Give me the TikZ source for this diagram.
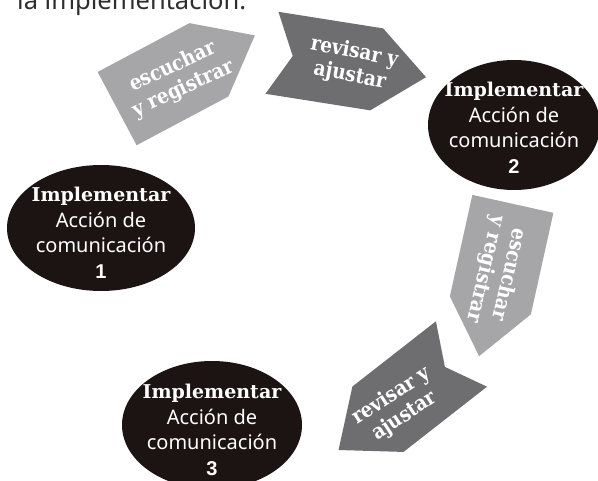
\documentclass[tikz,border=0pt]{standalone}
\usepackage{fontspec}
\setmainfont{Noto Sans}
\newfontfamily\slabfont{DejaVu Serif}
\newfontfamily\narrowslab{DejaVu Serif}[FakeStretch=0.88]
\newfontfamily\digitfont{Liberation Sans}
\usepackage{xcolor}
\usetikzlibrary{shapes.geometric}
\definecolor{ovalblack}{HTML}{1C1412}
\definecolor{steplight}{HTML}{A6A6A8}
\definecolor{stepdark}{HTML}{6E6E70}
\definecolor{introgray}{HTML}{2E2E2E}
\tikzset{
    action-oval/.style = {ellipse, fill=ovalblack, inner sep=0pt},
    action-text/.style = {text=white, align=center, inner sep=0pt, font=\fontsize{20}{25.5}\selectfont},
    step-text/.style = {text=white, align=center, inner sep=0pt, font=\narrowslab\bfseries\fontsize{21}{24}\selectfont},
    flat-step/.pic = {\fill[#1] (-78,-41.5) -- (26,-41.5) -- (78,0) -- (26,41.5) -- (-78,41.5) -- cycle;},
    notched-step/.pic = {\fill[#1] (-78,-41.5) -- (28,-41.5) -- (78,0) -- (28,41.5) -- (-78,41.5) -- (-57,0) -- cycle;},
}
\newcommand{\heading}{{\slabfont\bfseries\fontsize{19}{25.5}\selectfont Implementar}}

\begin{document}
\begin{tikzpicture}[x=1pt, y=-1pt]
\useasboundingbox (0,0) rectangle (598,481);
\clip (0,0) rectangle (598,481);

% line of text above, cut by the page edge
\node[anchor=base west, inner sep=0pt, text=introgray, font=\fontsize{25.5}{28}\selectfont] (intro) at (17,10) {la implementación.};

% the four steps
\pic[rotate=28] at (186,72) {flat-step=steplight};
\node[step-text, rotate=25] (listen-a) at (178,78) {escuchar\\y registrar};

\pic[rotate=-9] at (349,65) {notched-step=stepdark};
\node[step-text, rotate=-11] (review-a) at (352,64) {revisar y\\ajustar};

\pic[rotate=-102.5] at (496,280) {flat-step=steplight};
\node[step-text, rotate=-103] (listen-b) at (497,272) {escuchar\\y registrar};

\pic[rotate=218] at (400,402) {notched-step=stepdark};
\node[step-text, rotate=33] (review-b) at (398,406) {revisar y\\ajustar};

% the three actions
\node[action-oval, minimum width=188pt, minimum height=126pt] (oval-1) at (101,228) {};
\node[action-text] (action-1) at ([yshift=-5pt]oval-1.center) {\heading\\Acción de\\comunicación\\{\digitfont\bfseries 1}};

\node[action-oval, minimum width=172pt, minimum height=130pt] (oval-2) at (514,125) {};
\node[action-text] (action-2) at ([yshift=-3pt]oval-2.center) {\heading\\Acción de\\comunicación\\{\digitfont\bfseries 2}};

\node[action-oval, minimum width=180pt, minimum height=128pt] (oval-3) at (212,425) {};
\node[action-text] (action-3) at ([yshift=-5pt]oval-3.center) {\heading\\Acción de\\comunicación\\{\digitfont\bfseries 3}};
\end{tikzpicture}
\end{document}
